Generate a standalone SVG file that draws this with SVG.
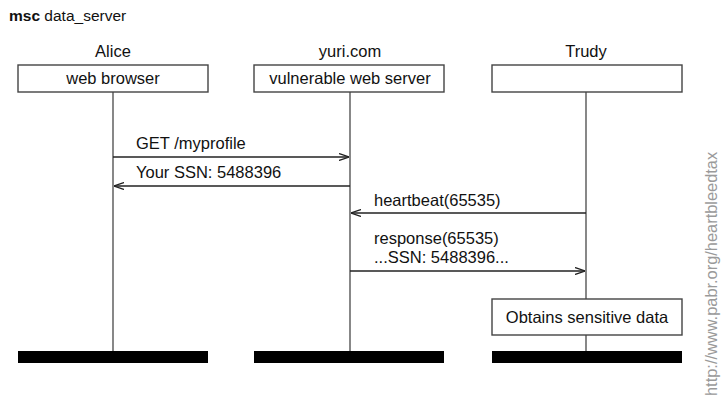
<svg xmlns="http://www.w3.org/2000/svg" width="725" height="408" viewBox="0 0 725 408">
  <defs>
    <marker id="open" viewBox="0 0 10 8" refX="10" refY="4" markerWidth="10" markerHeight="8" markerUnits="userSpaceOnUse" orient="auto">
      <path d="M0,0.5 L10,4 L0,7.5" fill="none" stroke="#222" stroke-width="1.3"/>
    </marker>
  </defs>
  <style>
    text { font-family: "Liberation Sans", Arial, sans-serif; font-size: 16.5px; fill: #111; }
    .title { font-size: 15.5px; }
    .box { fill: #fff; stroke: #444; stroke-width: 1.4; }
    .life { stroke: #555; stroke-width: 1.4; }
    .bar { fill: #000; }
    .msg { stroke: #222; stroke-width: 1.3; fill: none; marker-end: url(#open); }
    .mid { text-anchor: middle; }
    .wm { fill: #9a9a9a; font-size: 16.4px; }
  </style>
  <rect width="725" height="408" fill="#fff"/>

  <text class="title" x="9" y="21"><tspan font-weight="bold">msc</tspan> data_server</text>

  <!-- lifelines -->
  <g id="lifelines">
    <line class="life" x1="113" y1="92" x2="113" y2="352"/>
    <line class="life" x1="350" y1="92" x2="350" y2="352"/>
    <line class="life" x1="586" y1="92" x2="586" y2="352"/>
  </g>

  <g id="alice">
    <text class="mid" x="113" y="57">Alice</text>
    <rect class="box" x="18" y="65" width="190" height="27"/>
    <text class="mid" x="113" y="84">web browser</text>
    <rect class="bar" x="18" y="351" width="190" height="12"/>
  </g>

  <g id="yuri">
    <text class="mid" x="350" y="57">yuri.com</text>
    <rect class="box" x="254" y="65" width="190" height="27"/>
    <text class="mid" x="350" y="84">vulnerable web server</text>
    <rect class="bar" x="254" y="351" width="190" height="12"/>
  </g>

  <g id="trudy">
    <text class="mid" x="586" y="57">Trudy</text>
    <rect class="box" x="492" y="65" width="190" height="27"/>
    <rect class="box" x="492" y="299" width="190" height="36"/>
    <text class="mid" x="587" y="323">Obtains sensitive data</text>
    <rect class="bar" x="492" y="351" width="190" height="12"/>
  </g>

  <g id="connectors">
    <line class="msg" x1="113" y1="157" x2="349" y2="157"/>
    <text x="136" y="149">GET /myprofile</text>
    <line class="msg" x1="350" y1="186" x2="114" y2="186"/>
    <text x="136" y="178">Your SSN: 5488396</text>
    <line class="msg" x1="586" y1="213" x2="351" y2="213"/>
    <text x="374" y="206">heartbeat(65535)</text>
    <line class="msg" x1="350" y1="271" x2="585" y2="271"/>
    <text x="374" y="244">response(65535)</text>
    <text x="374" y="263">...SSN: 5488396...</text>
  </g>

  <text class="wm" transform="translate(717,396) rotate(-90)">http://www.pabr.org/heartbleedtax</text>
</svg>
